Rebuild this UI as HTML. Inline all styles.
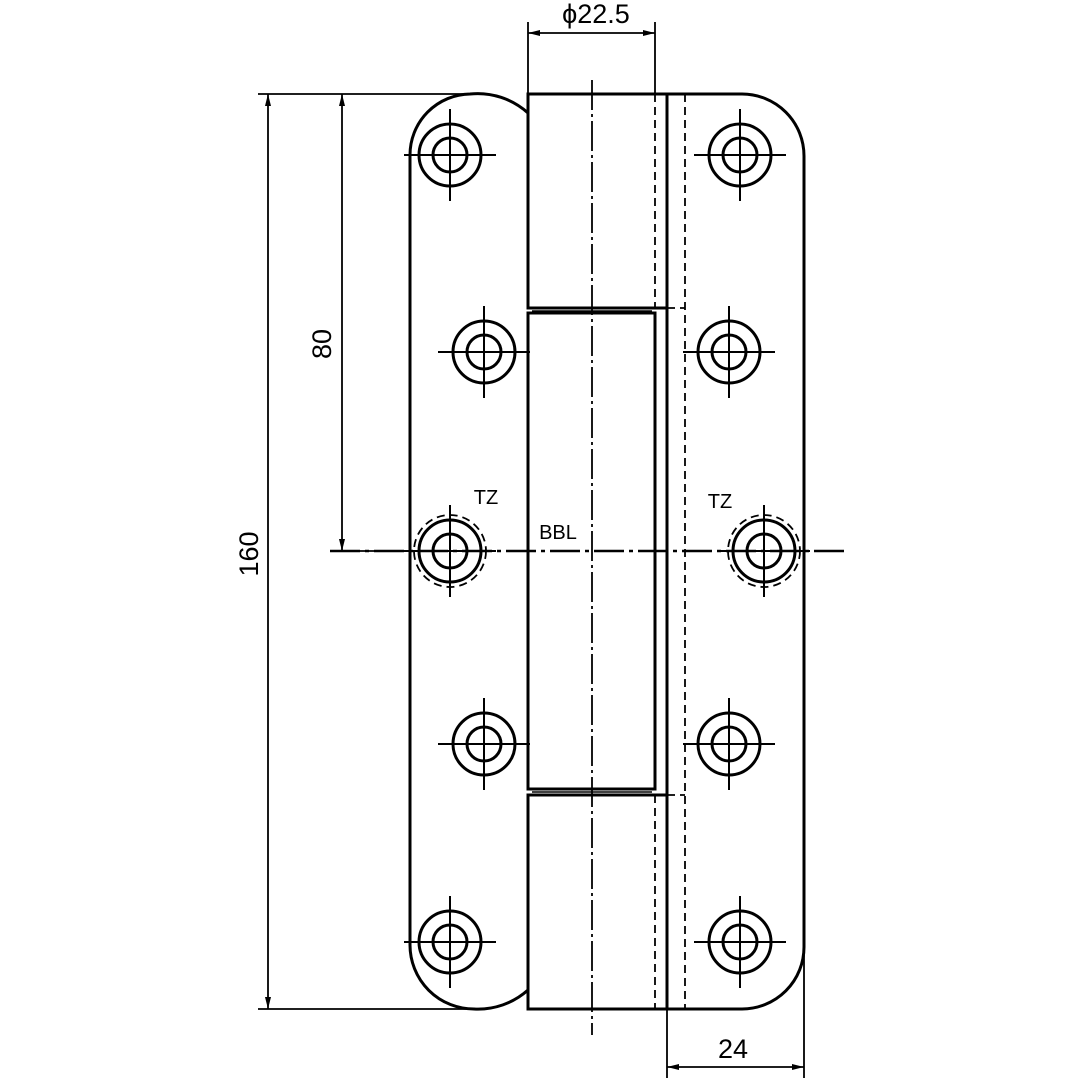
<!DOCTYPE html>
<html><head><meta charset="utf-8"><style>html,body{margin:0;padding:0;background:#fff}svg{display:block}</style></head>
<body>
<svg width="1080" height="1080" viewBox="0 0 1080 1080" xmlns="http://www.w3.org/2000/svg">
<defs>
<marker id="a" viewBox="0 0 12 6" refX="12" refY="3" markerWidth="12" markerHeight="6" orient="auto-start-reverse" markerUnits="userSpaceOnUse"><path d="M0,0 L12,3 L0,6 Z" fill="#000"/></marker>
<g id="h"><circle r="31" fill="none" stroke="#000" stroke-width="3"/><circle r="17" fill="none" stroke="#000" stroke-width="3"/><path d="M-46,0H46M0,-46V46" stroke="#000" stroke-width="2"/></g>
</defs>
<g fill="none" stroke="#000" stroke-linecap="butt">
<!-- left leaf -->
<path d="M528,113 A75,75 0 0 0 470,94 A61,61 0 0 0 410,155 L410,945 A64,64 0 0 0 474,1009 A75,75 0 0 0 528,990" stroke-width="3"/>
<!-- right leaf -->
<path d="M667,94 H742 A62,62 0 0 1 804,156 V947 A62,62 0 0 1 742,1009 H667" stroke-width="3"/>
<!-- barrel -->
<rect x="528" y="94" width="139" height="214" stroke-width="3"/>
<path d="M532,311 H652" stroke-width="1.5"/>
<path d="M528,789 V313 H655 V789 Z" stroke-width="3"/>
<path d="M532,792 H652" stroke-width="1.5"/>
<rect x="528" y="795" width="139" height="214" stroke-width="3"/>
<path d="M667,308 V795" stroke-width="3"/>
<!-- hidden lines -->
<g stroke-dasharray="8,5" stroke-width="1.8">
<path d="M655,94 V308 M655,795 V1009 M685,94 V1009 M667,308 H685 M667,795 H685"/>
<circle cx="450" cy="551" r="36"/><circle cx="764" cy="551" r="36"/>
</g>
<!-- centerlines -->
<path d="M592,80 V1035" stroke-width="1.8" stroke-dasharray="30,4,3,4"/>
<path d="M330,551 H845" stroke-width="2.5" stroke-dasharray="30,5,4,5"/>
<!-- dimensions -->
<g stroke-width="1.8">
<path d="M258,94 H470 M258,1009 H470 M332,551 H420"/>
<path d="M268,94 V1009" marker-start="url(#a)" marker-end="url(#a)"/>
<path d="M342,94 V551" marker-start="url(#a)" marker-end="url(#a)"/>
<path d="M528,22 V94 M655,22 V94"/>
<path d="M528,33 H655" marker-start="url(#a)" marker-end="url(#a)"/>
<path d="M667,1009 V1078 M804,955 V1078"/>
<path d="M667,1067 H804" marker-start="url(#a)" marker-end="url(#a)"/>
</g>
</g>
<use href="#h" x="450" y="155"/><use href="#h" x="740" y="155"/>
<use href="#h" x="484" y="352"/><use href="#h" x="729" y="352"/>
<use href="#h" x="450" y="551"/><use href="#h" x="764" y="551"/>
<use href="#h" x="484" y="744"/><use href="#h" x="729" y="744"/>
<use href="#h" x="450" y="942"/><use href="#h" x="740" y="942"/>
<g font-family="Liberation Sans, sans-serif" fill="#000">
<text x="596" y="23" font-size="27" text-anchor="middle">ϕ22.5</text>
<text x="733" y="1058" font-size="27" text-anchor="middle">24</text>
<text transform="translate(331,344) rotate(-90)" font-size="27" text-anchor="middle">80</text>
<text transform="translate(258,554) rotate(-90)" font-size="27" text-anchor="middle">160</text>
<text x="486" y="504" font-size="20" text-anchor="middle">TZ</text>
<text x="720" y="508" font-size="20" text-anchor="middle">TZ</text>
<text x="558" y="539" font-size="20" text-anchor="middle">BBL</text>
</g>
</svg>
</body></html>
